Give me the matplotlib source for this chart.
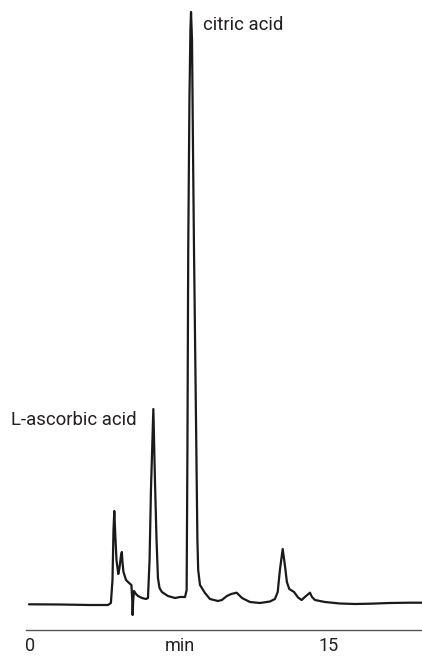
import matplotlib.pyplot as plt

plt.rcParams['font.family'] = ['Roboto', 'DejaVu Sans']

# retention time (min) and detector signal
time = [-0.05, 1.5, 3.01, 3.91, 4.06, 4.14, 4.19, 4.23, 4.28, 4.34, 4.43, 4.49,
        4.57, 4.61, 4.64, 4.69, 4.82, 4.97, 5.09, 5.13, 5.15, 5.18, 5.22, 5.32,
        5.42, 5.62, 5.82, 5.92, 6.0, 6.07, 6.19, 6.27, 6.35, 6.42, 6.5, 6.62,
        6.92, 7.28, 7.53, 7.78, 7.86, 7.9, 7.94, 8.0, 8.05, 8.08, 8.13, 8.18,
        8.23, 8.33, 8.4, 8.44, 8.53, 8.78, 9.03, 9.43, 9.63, 9.88, 10.1, 10.37,
        10.64, 11.04, 11.54, 12.04, 12.29, 12.43, 12.54, 12.68, 12.79, 12.89,
        13.01, 13.25, 13.45, 13.63, 13.85, 14.05, 14.15, 14.3, 14.8, 15.55,
        16.31, 17.06, 18.06, 19.07, 19.67]
signal = [-0.3, -0.5, -1, -1, 1, 24, 74, 93, 69, 44, 30, 36,
          49, 52, 42, 32, 24, 21, 19, 4, -11, 4, 13, 10,
          8, 6, 5, 6, 44, 114, 195, 124, 64, 26, 16, 12,
          8, 6, 7, 7, 14, 154, 354, 504, 574, 592, 564, 454,
          354, 184, 64, 34, 19, 11, 5, 3, 4, 8, 10, 11.3,
          6, 2, 1, 2.5, 5, 12, 34, 55, 39, 22,
          15, 12, 6.5, 4, 8, 11.3, 7, 4, 2, 0.5,
          0, 0.3, 1, 1.3, 1.3]

tick_pos = [0, 7.5, 15]
tick_labels = ['0', 'min', '15']

peak_names = ['citric acid', 'L-ascorbic acid']
label_pos = [(8.67, 574), (-0.95, 179)]

fig = plt.figure(figsize=(4.22, 6.57), dpi=100)
ax = fig.add_axes([26 / 422, 27 / 657, 396 / 422, 630 / 657])

ax.plot(time, signal, color='#1a1a1a', lw=1.6,
        solid_joinstyle='round', solid_capstyle='round')

for name, (tx, ty) in zip(peak_names, label_pos):
    ax.text(tx, ty, name, fontsize=13.4, color='#231f20',
            ha='left', va='baseline')

ax.set_xlim(-0.2, 19.67)
ax.set_ylim(-26, 604)
ax.set_xticks(tick_pos)
ax.set_xticklabels(tick_labels, fontsize=13, color='#231f20')
ax.tick_params(axis='x', length=0, pad=5)
ax.set_yticks([])
for side in ['top', 'right', 'left']:
    ax.spines[side].set_visible(False)
ax.spines['bottom'].set_color('#555555')
ax.spines['bottom'].set_linewidth(1.0)
ax.patch.set_alpha(0)

fig.savefig('out.png', dpi=100)
